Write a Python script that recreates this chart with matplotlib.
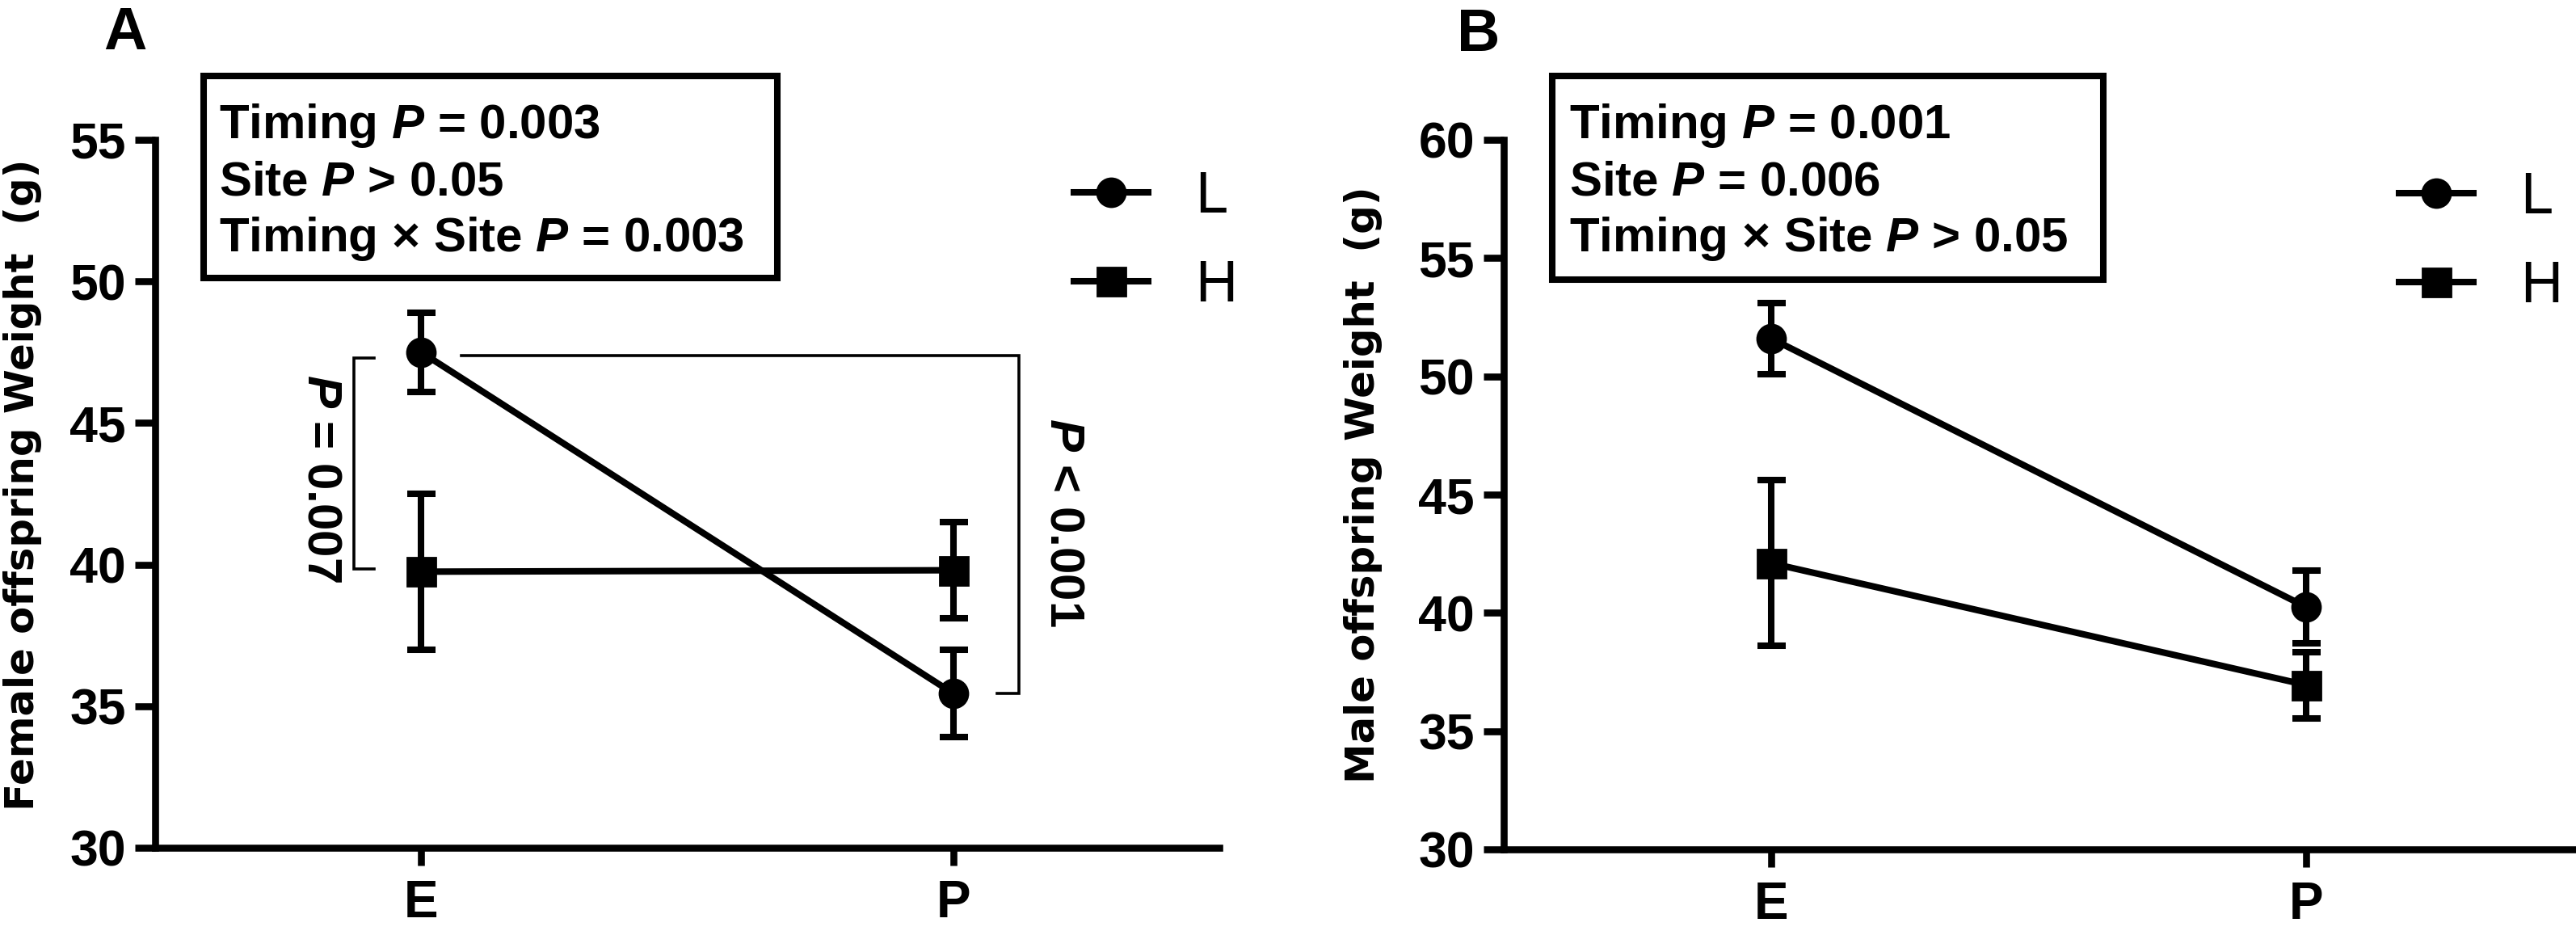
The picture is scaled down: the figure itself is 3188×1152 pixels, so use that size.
import matplotlib
matplotlib.use('Agg')
import matplotlib.pyplot as plt
from matplotlib.lines import Line2D
from matplotlib.patches import Rectangle

plt.rcParams['font.family'] = ['Liberation Sans', 'DejaVu Sans']
plt.rcParams['font.weight'] = 'bold'
plt.rcParams['mathtext.fontset'] = 'custom'
plt.rcParams['mathtext.it'] = 'Liberation Sans:bold:italic'
plt.rcParams['mathtext.rm'] = 'Liberation Sans:bold'
plt.rcParams['mathtext.bf'] = 'Liberation Sans:bold'

# ---------------- data ----------------
timing = ['E', 'P']
site_labels = ['L', 'H']

female_L_mean = [47.5, 35.45]
female_L_sem = [1.4, 1.55]
female_H_mean = [39.75, 39.8]
female_H_sem = [2.75, 1.7]

male_L_mean = [51.6, 40.25]
male_L_sem = [1.5, 1.55]
male_H_mean = [42.1, 36.95]
male_H_sem = [3.5, 1.4]

female_yticks = [30, 35, 40, 45, 50, 55]
male_yticks = [30, 35, 40, 45, 50, 55, 60]

female_stats = ["Timing $P$ = 0.003", "Site $P$ > 0.05", "Timing \u00d7 Site $P$ = 0.003"]
male_stats = ["Timing $P$ = 0.001", "Site $P$ = 0.006", "Timing \u00d7 Site $P$ > 0.05"]

# ---------------- figure ----------------
W, H = 3188, 1152
DPI = 200
fig = plt.figure(figsize=(W / DPI, H / DPI), dpi=DPI)

def px_axes(x0, x1, ytop, ybot):
    return fig.add_axes([x0 / W, 1 - ybot / H, (x1 - x0) / W, (ybot - ytop) / H])

axA = px_axes(192, 1509, 173, 1049)
axB = px_axes(1861, 3185, 173, 1051)

LW = 2.9
MS = 12.6
x = list(range(len(timing)))

def style(ax, yticks):
    for s in ('top', 'right'):
        ax.spines[s].set_visible(False)
    for s in ('left', 'bottom'):
        ax.spines[s].set_linewidth(3.1)
        ax.spines[s].set_capstyle('projecting')
    ax.set_xlim(-0.5, 1.5)
    ax.set_ylim(yticks[0], yticks[-1])
    ax.set_yticks(yticks)
    ax.set_xticks(x)
    ax.set_xticklabels(timing)
    ax.tick_params(axis='y', width=3.1, length=9, labelsize=22.5, pad=4)
    ax.tick_params(axis='x', width=3.1, length=8, labelsize=23, pad=6)

def draw(ax, Lm, Ls, Hm, Hs):
    ax.errorbar(x, Lm, yerr=Ls, fmt='-o', color='black', lw=LW, ms=MS,
                capsize=6.3, capthick=LW, elinewidth=LW, clip_on=False, zorder=3)
    ax.errorbar(x, Hm, yerr=Hs, fmt='-s', color='black', lw=LW, ms=MS,
                capsize=6.3, capthick=LW, elinewidth=LW, clip_on=False, zorder=3)
    handles = [Line2D([], [], color='black', lw=LW, marker='o', ms=MS),
               Line2D([], [], color='black', lw=LW, marker='s', ms=MS)]
    return handles

hA = draw(axA, female_L_mean, female_L_sem, female_H_mean, female_H_sem)
hB = draw(axB, male_L_mean, male_L_sem, male_H_mean, male_H_sem)
style(axA, female_yticks)
style(axB, male_yticks)

leg_kw = dict(loc='upper left', frameon=False, prop={'weight': 'normal', 'size': 26},
              handlelength=1.28, handletextpad=0.8, labelspacing=0.6,
              borderpad=0, borderaxespad=0)
axA.legend(hA, site_labels, bbox_to_anchor=((1329 - 192) / (1509 - 192), (1049 - 211) / (1049 - 173)), **leg_kw)
axB.legend(hB, site_labels, bbox_to_anchor=((2969 - 1861) / (3185 - 1861), (1051 - 212) / (1051 - 173)), **leg_kw)

# stats boxes
def stat_box(x0, x1, ytop, ybot, xtext, lines):
    fig.patches.append(Rectangle((x0 / W, 1 - ybot / H), (x1 - x0) / W, (ybot - ytop) / H,
                                 transform=fig.transFigure, fill=False, lw=2.9,
                                 edgecolor='black', joinstyle='miter'))
    for i, t in enumerate(lines):
        fig.text(xtext / W, 1 - (171 + 70 * i) / H, t, fontsize=21.6, va='baseline', ha='left')

stat_box(252, 962, 94, 344, 271, female_stats)
stat_box(1921, 2603, 94, 346, 1942, male_stats)

# significance brackets in panel A
axA.plot([-0.088, -0.1265, -0.1265, -0.088], [47.3, 47.3, 39.86, 39.86],
         color='black', lw=1.3, clip_on=False, solid_joinstyle='miter')
axA.text(-0.189, 43.03, "$P$ = 0.007", rotation=270, ha='center', va='center', fontsize=21.6)
axA.plot([0.076, 1.123, 1.123, 1.082], [47.37, 47.37, 35.46, 35.46],
         color='black', lw=1.3, clip_on=False, solid_joinstyle='miter')
axA.text(1.207, 41.49, "$P$ < 0.001", rotation=270, ha='center', va='center', fontsize=21.6)

# y labels
fig.text(28 / W, 1 - 600 / H, 'Female offspring Weight  (g)', rotation=90,
         family='DejaVu Sans', fontweight='bold', fontsize=17.9, ha='center', va='center')
fig.text(1687 / W, 1 - 600 / H, 'Male offspring Weight  (g)', rotation=90,
         family='DejaVu Sans', fontweight='bold', fontsize=17.9, ha='center', va='center')

# panel letters
fig.text(128 / W, 1 - 61 / H, 'A', fontsize=26.6, fontweight='bold', va='baseline')
fig.text(1803 / W, 1 - 63 / H, 'B', fontsize=26.6, fontweight='bold', va='baseline')

fig.savefig('out.png', dpi=DPI)
